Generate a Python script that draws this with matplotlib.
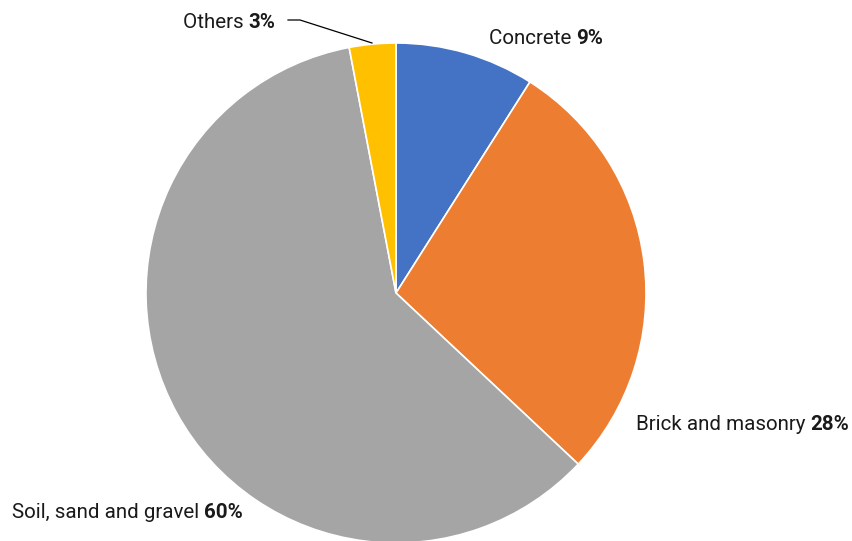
import matplotlib
matplotlib.use('Agg')
import matplotlib.pyplot as plt

# Material shares of construction waste
materials = ['Concrete', 'Brick and masonry', 'Soil, sand and gravel', 'Others']
shares = [9, 28, 60, 3]
colors = ['#4472C4', '#ED7D31', '#A5A5A5', '#FFC000']

# where each label sits (pixels, y measured from the top) and its left edge
label_pos = [(489, 39), (636, 424), (12, 512), (183, 22)]

plt.rcParams['font.family'] = ['Roboto', 'DejaVu Sans']

W, H = 852, 541
fig = plt.figure(figsize=(W / 100, H / 100), dpi=100)
ax = fig.add_axes([0, 0, 1, 1])

cx, cy, r = 396, H - 293, 250
ax.pie(shares, colors=colors, startangle=90, counterclock=False,
       center=(cx, cy), radius=r, frame=True,
       wedgeprops=dict(edgecolor='white', linewidth=1.2))
ax.set_xlim(0, W)
ax.set_ylim(0, H)
ax.set_aspect('equal')
ax.axis('off')

fig.canvas.draw()
renderer = fig.canvas.get_renderer()
fs = 14.8
for name, val, (x, y) in zip(materials, shares, label_pos):
    t = ax.text(x, H - y, name + ' ', fontsize=fs, ha='left', va='center', color='#1a1a1a')
    ext = t.get_window_extent(renderer)
    ax.text(ext.x1, H - y, f'{val}%', fontsize=fs, fontweight='bold', ha='left',
            va='center', color='#1a1a1a', transform=None)

# leader line for the small slice
ax.plot([288, 300, 372], [H - 20, H - 20, H - 43], color='black', lw=0.9)

fig.savefig('out.png', dpi=100)
